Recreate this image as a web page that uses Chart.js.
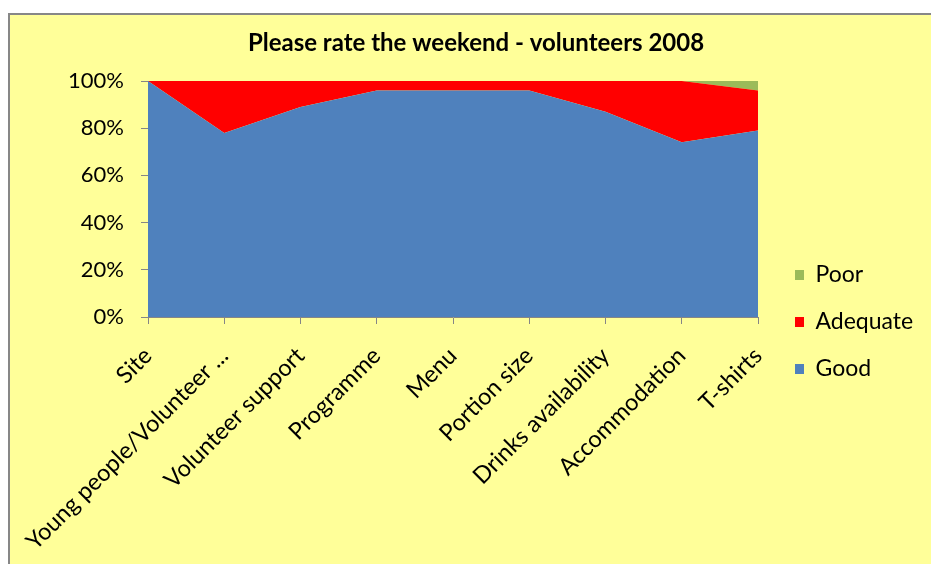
<!DOCTYPE html>
<html>
<head>
<meta charset="utf-8">
<script src="https://cdn.jsdelivr.net/npm/chart.js@4.4.0/dist/chart.umd.min.js"></script>
<style>
  html, body { margin: 0; padding: 0; background: #ffffff; overflow: hidden; }
  #frame { position: absolute; left: 8px; top: 13px; width: 960px; height: 600px;
           background: #FFFF99; border: 2px solid #878787; box-sizing: border-box; }
  #wrap { position: absolute; left: 0; top: 0; width: 931px; height: 564px; }
</style>
</head>
<body>
<div id="frame"></div>
<div id="wrap"><canvas id="c" width="931" height="564"></canvas></div>
<script>
const categories = ['Site', 'Young people/Volunteer ...', 'Volunteer support', 'Programme', 'Menu',
                    'Portion size', 'Drinks availability', 'Accommodation', 'T-shirts'];
const seriesNames = ['Good', 'Adequate', 'Poor'];
const good     = [100, 78, 89, 96, 96, 96, 87, 74, 79];
const adequate = [0, 22, 11, 4, 4, 4, 13, 26, 17];
const poor     = [0, 0, 0, 0, 0, 0, 0, 0, 4];
const yTicks   = [0, 20, 40, 60, 80, 100];

const colors = ['#4F81BD', '#FF0000', '#9BBB59'];
const FONT = 'Lato, "Open Sans", sans-serif';
const FS = 22;      // y tick font
const LFS = 23;     // legend font
const XFS = 23.5;   // x label font

// measure longest legend text to place the layout
const mctx = document.createElement('canvas').getContext('2d');
mctx.font = LFS + 'px ' + FONT;
const textW = Math.max(...seriesNames.map(s => mctx.measureText(s).width));
const LPAD = 47 - LFS;
const legendW = LPAD + 22 + LFS / 2 + textW + 10;
const padRight = Math.max(0, 931 - 758 - legendW);
const padLeft = Math.max(0, 2 * 476 - (931 - padRight));

function legendSwatch(color) {
  const cv = document.createElement('canvas');
  cv.width = 22; cv.height = 10;
  const g = cv.getContext('2d');
  g.fillStyle = color;
  g.fillRect(37 - LPAD, 0, 10, 10);
  return cv;
}
const swatches = colors.map(legendSwatch);

const values = [good, adequate, poor];
const datasets = seriesNames.map((name, i) => ({
  label: name,
  data: values[i],
  backgroundColor: colors[i],
  borderColor: colors[i],
  borderWidth: 0,
  pointRadius: 0,
  pointHoverRadius: 0,
  fill: i === 0 ? 'origin' : '-1',
  tension: 0
}));

Chart.defaults.font.family = FONT;
Chart.defaults.color = '#000000';

new Chart(document.getElementById('c'), {
  type: 'line',
  data: { labels: categories, datasets },
  options: {
    responsive: false,
    animation: false,
    layout: { padding: { left: padLeft, right: padRight, top: 0, bottom: 0 } },
    plugins: {
      title: {
        display: true,
        text: 'Please rate the weekend - volunteers 2008',
        font: { size: 24, weight: 'bold', family: FONT },
        color: '#000000',
        padding: { top: 28.6, bottom: 23.6 }
      },
      legend: {
        position: 'right',
        reverse: true,
        title: { display: true, text: ' ', font: { size: 12 }, padding: { top: 65.6, bottom: 0 } },
        labels: {
          usePointStyle: true,
          boxWidth: 22,
          boxHeight: 10,
          padding: LPAD,
          font: { size: LFS, family: FONT },
          color: '#000000',
          generateLabels(chart) {
            const items = Chart.defaults.plugins.legend.labels.generateLabels(chart);
            items.forEach(it => { it.pointStyle = swatches[it.datasetIndex]; it.lineWidth = 0; });
            return items;
          }
        }
      },
      tooltip: { enabled: false }
    },
    scales: {
      x: {
        offset: false,
        grid: { display: true, drawOnChartArea: false, drawTicks: true, tickLength: 7, color: '#868686' },
        border: { display: true, color: '#868686', width: 1 },
        ticks: { maxRotation: 45, minRotation: 45, autoSkip: false, padding: 18,
                 font: { size: XFS, family: FONT }, color: '#000000' },
        afterFit(scale) { scale.height = 247; }
      },
      y: {
        stacked: true,
        min: 0, max: 100,
        afterBuildTicks(scale) { scale.ticks = yTicks.map(v => ({ value: v })); },
        grid: { display: true, drawOnChartArea: false, drawTicks: true, tickLength: 7, color: '#868686' },
        border: { display: true, color: '#868686', width: 1 },
        ticks: { padding: 17, font: { size: FS, family: FONT }, color: '#000000',
                 callback: v => v + '%' },
        afterFit(scale) { scale.width = 148 - padLeft; }
      }
    }
  }
});
</script>
</body>
</html>
